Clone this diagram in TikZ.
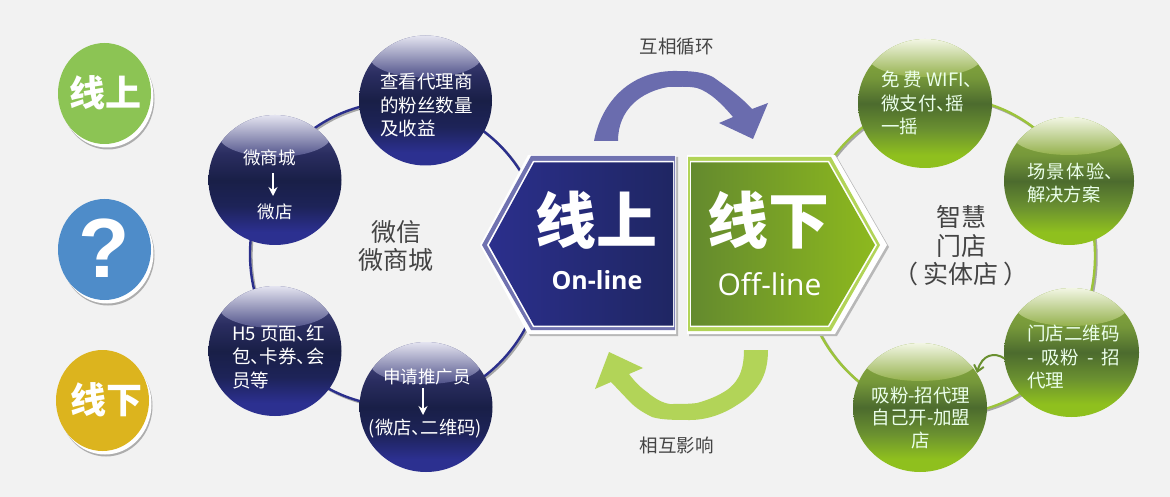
\documentclass[tikz,border=0pt]{standalone}
\usepackage{fontspec}
\setmainfont[RawFeature=+palt]{Noto Sans CJK SC}
\newfontfamily\latinbold{Open Sans}
\newfontfamily\qfont{Liberation Sans}
\usetikzlibrary{shapes.geometric,arrows.meta,calc}
\definecolor{bgc}{HTML}{F2F2F2}
\definecolor{navyA}{HTML}{5A5C90}\definecolor{navyB}{HTML}{2A2D60}\definecolor{navyC}{HTML}{191F47}
\definecolor{navyD}{HTML}{1D2358}\definecolor{navyE}{HTML}{2C3090}
\definecolor{navyGT}{HTML}{E4E4F0}\definecolor{navyGB}{HTML}{50528A}
\definecolor{grA}{HTML}{8FB040}\definecolor{grB}{HTML}{76983A}\definecolor{grC}{HTML}{4C6B2E}
\definecolor{grD}{HTML}{6A9030}\definecolor{grE}{HTML}{8FC01E}
\definecolor{grGT}{HTML}{F2F6E4}\definecolor{grGB}{HTML}{93B04A}
\definecolor{ringnavy}{HTML}{2B2F8C}\definecolor{ringgreen}{HTML}{9CC43A}
\definecolor{hexnavyL}{HTML}{2B2F8C}\definecolor{hexnavyR}{HTML}{1F2663}
\definecolor{hexgreenL}{HTML}{648A2E}\definecolor{hexgreenR}{HTML}{8DB91E}
\definecolor{bandpurple}{HTML}{7072B0}\definecolor{bandgreen}{HTML}{B2D458}
\definecolor{arrowpurple}{HTML}{6A6CAE}\definecolor{arrowgreen}{HTML}{B2D458}
\definecolor{labelgray}{HTML}{444444}
\definecolor{legG}{HTML}{8CC454}\definecolor{legB}{HTML}{4E8CC9}\definecolor{legY}{HTML}{DCB41E}
% the box of the whole ball is fitted to the band 25bp--75bp of a shading
\pgfdeclareverticalshading{navyball}{100bp}{color(0bp)=(navyE);color(30bp)=(navyE);color(40bp)=(navyD);color(50bp)=(navyC);color(60bp)=(navyB);color(75bp)=(navyA);color(100bp)=(navyA)}
\pgfdeclareverticalshading{greenball}{100bp}{color(0bp)=(grE);color(30bp)=(grE);color(40bp)=(grD);color(50bp)=(grC);color(60bp)=(grB);color(75bp)=(grA);color(100bp)=(grA)}
\pgfdeclareverticalshading{navygloss}{100bp}{color(0bp)=(navyGB);color(59bp)=(navyGB);color(75bp)=(navyGT);color(100bp)=(navyGT)}
\pgfdeclareverticalshading{greengloss}{100bp}{color(0bp)=(grGB);color(60bp)=(grGB);color(75bp)=(grGT);color(100bp)=(grGT)}
\tikzset{
  ball/.style={ellipse,inner sep=0pt,outer sep=0pt,minimum width=133pt,minimum height=130pt},
  navyb/.style={ball,shade,shading=navyball,path picture={
    \shade[shading=navygloss] ([yshift=-21pt]path picture bounding box.north) ellipse [x radius=56pt,y radius=21pt];}},
  greenb/.style={ball,shade,shading=greenball,path picture={
    \shade[shading=greengloss] ([yshift=-19pt]path picture bounding box.north) ellipse [x radius=56pt,y radius=19pt];}},
  balltext/.style={text=white,align=left,inner sep=0pt,font=\fontsize{18.5}{23.5}\selectfont},
  greentext/.style={balltext,text=white!92!green},
  bigword/.style={text=white,inner sep=0pt,font=\fontsize{61}{61}\bfseries\selectfont},
  midlabel/.style={text=labelgray,align=center,inner sep=0pt,font=\fontsize{25}{28.5}\selectfont},
  toplabel/.style={text=labelgray,inner sep=0pt,font=\fontsize{18.5}{18.5}\selectfont},
  ringline/.style={line width=2.4pt},
  whitearrow/.style={white,line width=1.8pt,-{Stealth[length=9pt,width=9pt]}},
  legend/.style={ellipse,inner sep=0pt,outer sep=0pt,minimum width=93pt,minimum height=101pt},
  legword/.style={text=white,inner sep=0pt,font=\fontsize{36}{36}\bfseries\selectfont},
  legwhite/.style={legend,fill=white},
  leggray/.style={legend,fill=black!32},
}
\begin{document}
\begin{tikzpicture}[x=1pt,y=-1pt]
\useasboundingbox (0,0) rectangle (1170,497);
\fill[bgc] (0,0) rectangle (1170,497);

% rings
\draw[ringline,black!35] (398.5,255.5) ellipse [x radius=147pt,y radius=152pt];
\draw[ringline,ringnavy] (397,254) ellipse [x radius=147pt,y radius=152pt];
\draw[ringline,black!35] (949.5,257.5) ellipse [x radius=147pt,y radius=158pt];
\draw[ringline,ringgreen] (948,256) ellipse [x radius=147pt,y radius=158pt];

% balls, left
\node[navyb] (b1) at (425.5,100.5) {};
\node[navyb] (b2) at (275,180) {};
\node[navyb] (b3) at (275,351) {};
\node[navyb] (b4) at (426,407) {};
% balls, right
\node[greenb,minimum width=134pt,minimum height=129pt] (g1) at (925,103.5) {};
\node[greenb,minimum width=130pt,minimum height=128pt] (g2) at (1069,181) {};
\node[greenb,minimum width=135pt,minimum height=129pt] (g3) at (1071.5,352.5) {};
\node[greenb,minimum width=134pt,minimum height=129pt] (g4) at (920,407.5) {};

% ball texts
\node[balltext] (t1) at (426.5,105) {查看代理商\\的粉丝数量\\及收益};
\node[balltext,font=\fontsize{17.5}{20}\selectfont] (t2a) at (269.5,158) {微商城};
\node[balltext,font=\fontsize{17.5}{20}\selectfont] (t2b) at (275,212) {微店};
\coordinate (a2s) at (273,173);\coordinate (a2e) at (273,196);
\draw[whitearrow] (a2s) -- (a2e);
\node[balltext] (t3) at (278.5,357) {H5 页面、红\\包、卡券、会\\员等};
\node[balltext,font=\fontsize{17.5}{20}\selectfont] (t4a) at (427,377) {申请推广员};
\node[balltext,font=\fontsize{18.3}{20}\selectfont] (t4b) at (425.5,429) {(微店、二维码)};
\coordinate (a4s) at (423,388);\coordinate (a4e) at (423,415);
\draw[whitearrow] (a4s) -- (a4e);
\node[greentext] (t5) at (927,103) {免 费 WIFI、\\微支付、摇\\一摇};
\node[greentext,anchor=west,font=\fontsize{18.3}{23}\selectfont] (t6) at (1027,183.5) {场\kern1.5pt 景\kern1.5pt 体\kern1.5pt 验、\\解决方案};
\node[greentext,anchor=west] (t7) at (1027,357) {门店二维码\\-\ \ 吸粉\ \ -\ \ 招\\代理};
\node[greentext,align=center,font=\fontsize{18.5}{22.5}\selectfont] (t8) at (921,417.5) {吸粉-招代理\\自己开-加盟\\店};

% small curved arrow
\coordinate (tip) at (977,373);
\draw[line width=2pt,color=grD,-{Straight Barb[length=6pt,width=10pt]}] (g3.185) .. controls (995,352) and (982,354) .. (tip);

% hexagons
\fill[black!28] (530,157) -- (678,157) -- (678,336) -- (530,336) -- (482,247) -- cycle;
\fill[white] (528,155) -- (676,155) -- (676,334) -- (528,334) -- (480,245) -- cycle;
\fill[bandpurple] (531,156) -- (675,156) -- (675,330) -- (531,330) -- (482,245) -- cycle;
\fill[white] (533,161) -- (674,161) -- (674,327) -- (533,327) -- (487,245) -- cycle;
\shade[left color=hexnavyL,right color=hexnavyR] (534,162.5) -- (673,162.5) -- (673,325.5) -- (534,325.5) -- (489,245) -- cycle;

\fill[black!28] (689,157) -- (837,157) -- (889,247) -- (837,336) -- (689,336) -- cycle;
\fill[white] (687,155) -- (835,155) -- (887,245) -- (835,334) -- (687,334) -- cycle;
\fill[bandgreen] (688,157) -- (831,157) -- (880,245) -- (831,331) -- (688,331) -- cycle;
\fill[white] (690,161) -- (829,161) -- (877,245) -- (829,327) -- (690,327) -- cycle;
\shade[left color=hexgreenL,right color=hexgreenR] (691,162.5) -- (828,162.5) -- (875,245) -- (828,325.5) -- (691,325.5) -- cycle;

\node[bigword] (w1) at (596.5,220) {线上};
\node[bigword] (w2) at (768.5,220) {线下};
\node[text=white,inner sep=0pt,font=\fontsize{25}{25}\latinbold\bfseries\selectfont] (w3) at (597,280) {On-line};
\node[text=white,inner sep=0pt,font=\fontsize{30}{30}\latinbold\selectfont] (w4) at (769.5,284) {Off-line};

% big arrows
\fill[arrowpurple] (594,141) .. controls (602,100) and (632,70) .. (677,71) .. controls (692,71) and (703,72) .. (713,77) .. controls (730,89) and (742,98) .. (752,109) -- (768,103) -- (753,139) -- (719,123) -- (733,117) .. controls (722,104) and (710,92) .. (697,88) .. controls (688,86) and (678,87) .. (668,87) .. controls (640,92) and (618,110) .. (618,141) -- cycle;
\fill[arrowgreen] (744,350) -- (768,350) .. controls (768,362) and (766,373) .. (760,383) .. controls (752,395) and (745,400) .. (737,405) .. controls (722,415) and (705,420) .. (690,420) .. controls (675,420) and (662,420) .. (652,417) .. controls (642,412) and (636,408) .. (630,402) -- (611,382) -- (595,389) -- (609,352) -- (643,368) -- (629,374) .. controls (635,382) and (640,387) .. (647,392) .. controls (654,398) and (662,403) .. (670,404) .. controls (680,404) and (690,404) .. (697,403) .. controls (708,400) and (718,396) .. (727,390) .. controls (735,384) and (744,375) .. (744,350) -- cycle;

% labels
\node[toplabel] (l1) at (676.5,47) {互相循环};
\node[toplabel] (l2) at (676.5,445) {相互影响};
\node[midlabel] (l3) at (396,246) {微信\\微商城};
\node[midlabel] (l4) at (961,246) {智慧\\门店\\（ 实体店 ）};

% legend
\node[leggray] (s1) at (108,99) {};\node[legwhite] (r1) at (107,97) {};
\node[legend,fill=legG] (k1) at (104.5,93.5) {};
\node[legword] (kt1) at (105.5,93) {线上};
\node[leggray] (s2) at (108,255) {};\node[legwhite] (r2) at (107,253) {};
\node[legend,fill=legB] (k2) at (104.5,249.5) {};
\node[text=white,inner sep=0pt,font=\fontsize{84}{84}\qfont\bfseries\selectfont] (kt2) at (104,248) {?};
\node[leggray] (s3) at (106,406) {};\node[legwhite] (r3) at (105,404) {};
\node[legend,fill=legY] (k3) at (102.5,400.5) {};
\node[legword] (kt3) at (106,400) {线下};
\end{tikzpicture}
\end{document}
